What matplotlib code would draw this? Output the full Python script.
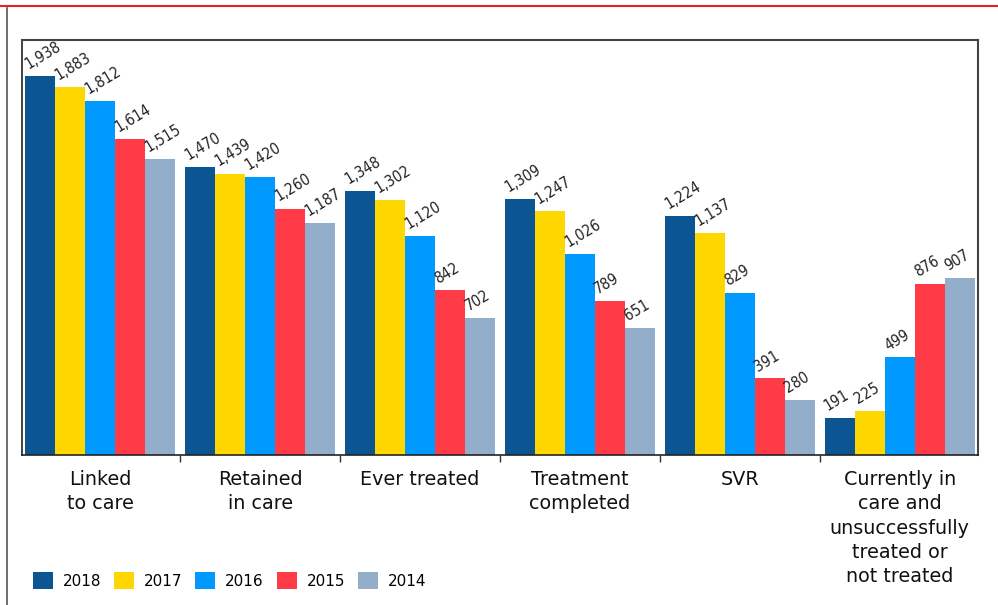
import matplotlib
matplotlib.use("Agg")
import matplotlib.pyplot as plt
from matplotlib.lines import Line2D
from matplotlib.patches import Patch
import numpy as np

categories = ["Linked\nto care", "Retained\nin care", "Ever treated", "Treatment\ncompleted", "SVR",
              "Currently in\ncare and\nunsuccessfully\ntreated or\nnot treated"]
years = ["2018", "2017", "2016", "2015", "2014"]
v2018 = [1938, 1470, 1348, 1309, 1224, 191]
v2017 = [1883, 1439, 1302, 1247, 1137, 225]
v2016 = [1812, 1420, 1120, 1026, 829, 499]
v2015 = [1614, 1260, 842, 789, 391, 876]
v2014 = [1515, 1187, 702, 651, 280, 907]
series = [v2018, v2017, v2016, v2015, v2014]
colors = ["#0B5592", "#FFD700", "#0099FF", "#FF3B47", "#93AECB"]

fig = plt.figure(figsize=(9.98, 6.05), dpi=100)
ax = fig.add_axes([0.022, 0.248, 0.958, 0.686])

x = np.arange(len(categories))
w = 0.188
for j, (vals, c) in enumerate(zip(series, colors)):
    pos = x + (j - 2) * w
    ax.bar(pos, vals, width=w, color=c, edgecolor="none")
    for p, v in zip(pos, vals):
        ax.annotate(f"{v:,}", xy=(p - w / 2, v), xytext=(3.5, 3), textcoords="offset points",
                    rotation=31, ha="left", va="bottom", rotation_mode="anchor",
                    fontsize=11, color="#222222", fontstretch="condensed",
                    family=["DejaVu Sans"])

ax.set_xlim(-0.49, 5.49)
ax.set_ylim(0, 2122)
ax.set_yticks([])
ax.set_xticks(x)
ax.set_xticklabels(categories, fontsize=13.8, linespacing=1.35, color="#111111")
ax.tick_params(axis="x", which="major", length=0, pad=11)
ax.set_xticks(x[:-1] + 0.5, minor=True)
ax.tick_params(axis="x", which="minor", length=5, width=1, color="#333333")
for s in ["top", "right"]:
    ax.spines[s].set_color("#444444")
    ax.spines[s].set_linewidth(1.5)
for s in ["left", "bottom"]:
    ax.spines[s].set_color("#222222")
    ax.spines[s].set_linewidth(1.2)

# decorative lines
fig.add_artist(Line2D([0, 1], [1 - 6 / 605, 1 - 6 / 605], color="#E8202A", lw=1.5))
fig.add_artist(Line2D([7 / 998, 7 / 998], [0, 1 - 8 / 605], color="#555555", lw=1.2))

handles = [Patch(facecolor=c, edgecolor="none") for c in colors]
fig.legend(handles, years, loc="lower left", bbox_to_anchor=(0.019, 0.004), ncol=5, frameon=False,
           fontsize=11, handlelength=1.3, handleheight=1.3, handletextpad=0.65, columnspacing=0.85)

fig.savefig("out.png", dpi=100)
